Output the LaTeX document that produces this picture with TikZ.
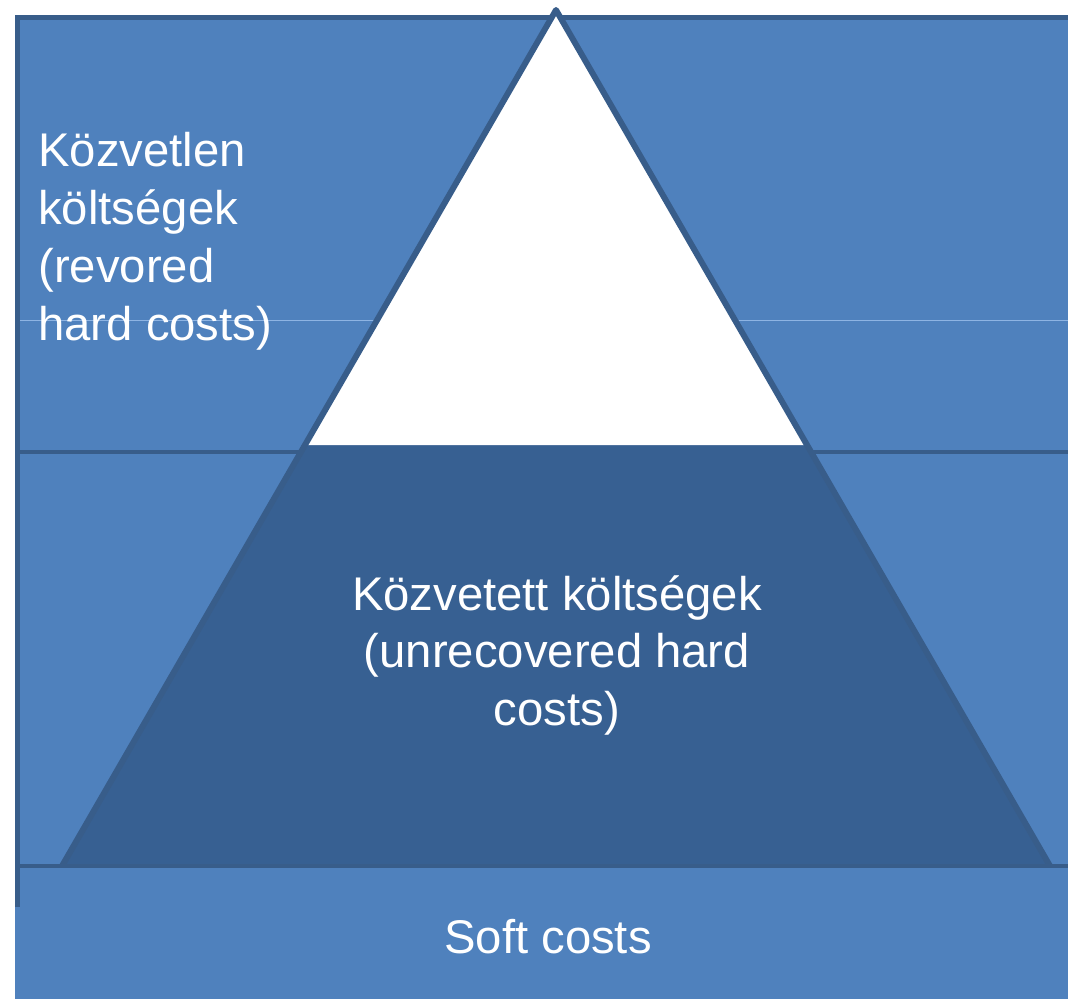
\documentclass[tikz,border=0pt]{standalone}
\usepackage{fontspec}
\setmainfont{Liberation Sans}
\definecolor{bandblue}{HTML}{4F81BD}
\definecolor{edgeblue}{HTML}{385D8A}
\definecolor{deepblue}{HTML}{376092}
\definecolor{hairblue}{HTML}{8EB4E3}

\begin{document}
\begin{tikzpicture}[x=0.02cm, y=-0.02cm]

\tikzstyle{band}=[fill=bandblue, draw=edgeblue, line width=2.8pt]
\tikzstyle{edge}=[draw=edgeblue, line width=3.4pt, line join=round]
\tikzstyle{whitetext}=[text=white, inner sep=0pt, font=\fontsize{26.9}{32.9}\selectfont]

\useasboundingbox (0,0) rectangle (1068,998);

% the three bands
\draw [band] (17.5,17.5) rectangle (1090,452);
\draw [band] (17.5,452) rectangle (1090,866);
\draw [hairblue, line width=0.5pt] (20,320) -- (1068,320);

% the pyramid
\coordinate (apex) at (556,10);
\coordinate (bl) at (62,866);
\coordinate (br) at (1050,866);
\coordinate (wl) at (305,445);
\coordinate (wr) at (807,445);
\fill [deepblue] (apex) -- (bl) -- (br) -- cycle;
\fill [white] (apex) -- (wl) -- (wr) -- cycle;
\draw [edge] (bl) -- (apex) -- (br);

% bottom band over the base
\fill [bandblue] (15,866) rectangle (1090,1010);
\draw [edgeblue, line width=2.8pt] (15,866) -- (1090,866);
\draw [edgeblue, line width=2.8pt] (17.5,866) -- (17.5,907);

\node (direct) [whitetext, anchor=north west, align=left] at (38,132) {Közvetlen\\költségek\\(revored\\hard costs)};
\node (indirect) [whitetext, anchor=north, align=center] at (557,575) {Közvetett költségek\\(unrecovered hard\\costs)};
\node (soft) [whitetext, anchor=base] at (548,953) {Soft costs};

\end{tikzpicture}
\end{document}
